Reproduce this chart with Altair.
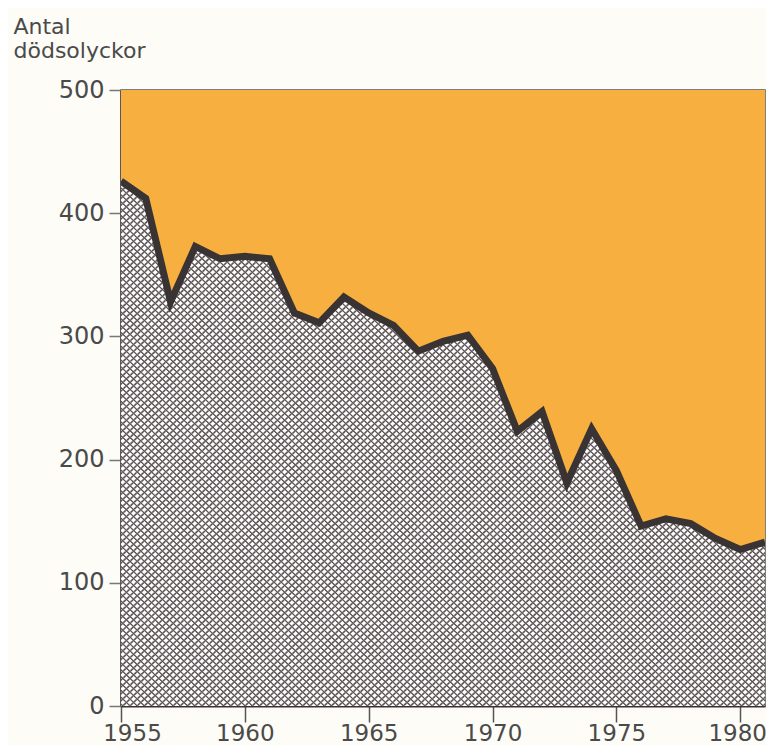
import altair as alt
import pandas as pd

# ---- data ----
YEARS = list(range(1955, 1982))
VALUES = [426, 412, 328, 373, 363, 365, 363, 319, 311, 332, 319, 309, 288,
          296, 301, 274, 223, 239, 181, 225, 191, 146, 152, 148, 136, 127, 133]
X_TICKS = [1955, 1960, 1965, 1970, 1975, 1980]
Y_TICKS = [0, 100, 200, 300, 400, 500]
X_DOMAIN = [1955, 1981]
Y_DOMAIN = [0, 500]
Y_TITLE = ["Antal", "dödsolyckor"]

ORANGE = "#F7B03F"
DARK = "#3a3333"
HATCH = "#5f5557"
FONT = "DejaVu Sans"
TXT = "#4a4a4a"

df = pd.DataFrame({"year": YEARS, "value": VALUES})
frame = pd.DataFrame({"x0": [X_DOMAIN[0]], "x1": [X_DOMAIN[1]],
                      "y0": [Y_DOMAIN[0]], "y1": [Y_DOMAIN[1]]})

W, H = 644, 616


def stripes(n, base, line, x1, y1, x2, y2):
    stops = []
    for k in range(n):
        o = k / n
        stops.append(alt.GradientStop(offset=round(o, 6), color=base))
        stops.append(alt.GradientStop(offset=round(o + 0.45 / n, 6), color=base))
        stops.append(alt.GradientStop(offset=round(o + 0.68 / n, 6), color=line))
        stops.append(alt.GradientStop(offset=round(o + 0.80 / n, 6), color=line))
    stops.append(alt.GradientStop(offset=1, color=base))
    return alt.Gradient(gradient="linear", stops=stops, x1=x1, y1=y1, x2=x2, y2=y2)


N = int(round(2 * W / 7.2))

xs = alt.Scale(domain=X_DOMAIN, nice=False, zero=False)
ys = alt.Scale(domain=Y_DOMAIN, nice=False)

x_axis = alt.Axis(values=X_TICKS, format="d", title=None, grid=False,
                  tickSize=16, tickWidth=1.5, tickColor="#555555",
                  domainColor=DARK, domainWidth=2,
                  labelFont=FONT, labelFontSize=23, labelColor=TXT,
                  labelPadding=18, labelBaseline="alphabetic", labelFlush=False,
                  labelOffset={"condition": [
                      {"test": f"datum.value == {X_TICKS[0]}", "value": 11},
                      {"test": f"datum.value == {X_TICKS[-1]}", "value": -3}],
                      "value": 0})
y_axis = alt.Axis(values=Y_TICKS, title=Y_TITLE, grid=False,
                  tickSize=12, tickWidth=1.5, tickColor="#777777",
                  domainColor=DARK, domainWidth=2,
                  labelFont=FONT, labelFontSize=24, labelColor=TXT,
                  labelPadding=5,
                  titleAngle=0, titleAlign="left", titleBaseline="alphabetic",
                  titleX=-108, titleY=-57, titleFont=FONT, titleFontSize=22,
                  titleFontWeight="normal", titleColor=TXT,
                  titleLineHeight=24)

base_rect = alt.Chart(frame).encode(
    x=alt.X("x0:Q", scale=xs, axis=x_axis),
    x2="x1:Q",
    y=alt.Y("y0:Q", scale=ys, axis=y_axis),
    y2="y1:Q",
)

hatch1 = base_rect.mark_rect(color=stripes(N, "#ffffff", HATCH, 0, 0, 1, 1))
hatch2 = base_rect.mark_rect(color=stripes(N, "rgba(255,255,255,0)", HATCH, 1, 0, 0, 1))

orange = alt.Chart(df).mark_area(color=ORANGE, opacity=1).encode(
    x=alt.X("year:Q", scale=xs, axis=x_axis),
    y=alt.Y("value:Q", scale=ys, axis=y_axis),
    y2=alt.datum(Y_DOMAIN[1]),
)

line = alt.Chart(df).mark_line(color=DARK, strokeWidth=7, strokeJoin="miter",
                               strokeMiterLimit=4, clip=True).encode(
    x=alt.X("year:Q", scale=xs, axis=x_axis),
    y=alt.Y("value:Q", scale=ys, axis=y_axis),
)

chart = alt.layer(hatch1, hatch2, orange, line).properties(
    width=W, height=H,
    autosize=alt.AutoSizeParams(type="none"),
    padding={"left": 113, "top": 82, "right": 1, "bottom": 39},
    background="#fdfcf7",
).configure_view(stroke="#555555", strokeWidth=1.5)

chart.save("out.html", embed_options={"renderer": "svg", "actions": False})
